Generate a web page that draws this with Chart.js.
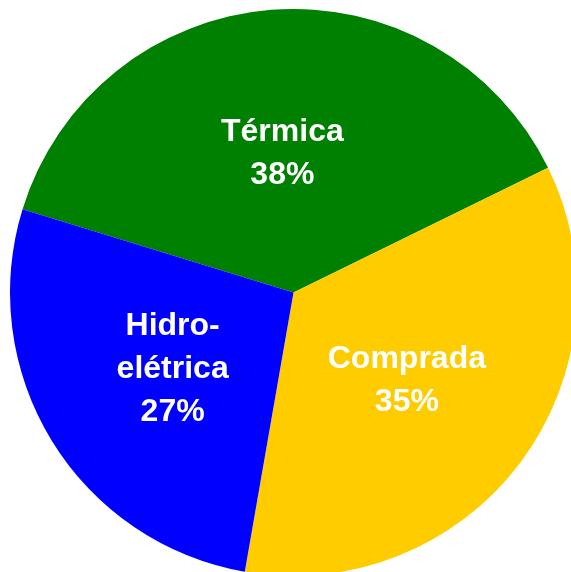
<!DOCTYPE html>
<html>
<head>
<meta charset="utf-8">
<script src="https://cdn.jsdelivr.net/npm/chart.js@4"></script>
<style>
  html, body { margin: 0; padding: 0; background: #fff; overflow: hidden; }
  body { width: 571px; height: 572px; position: relative; }
  #wrap { position: absolute; left: 10px; top: 9px; width: 567px; height: 567px; }
</style>
</head>
<body>
<div id="wrap"><canvas id="chart"></canvas></div>
<script>
// dados do gráfico
const categories = ["Térmica", "Comprada", "Hidroelétrica"];
const labelLines = [["Térmica"], ["Comprada"], ["Hidro-", "elétrica"]];
const values = [38, 35, 27];
const colors = ["#008000", "#ffcc00", "#0000ff"];

// escreve o nome e a percentagem no meio de cada fatia
const sliceLabels = {
  id: "sliceLabels",
  afterDatasetsDraw(chart) {
    const ctx = chart.ctx;
    const meta = chart.getDatasetMeta(0);
    const total = values.reduce((a, b) => a + b, 0);
    const size = 32;
    const lineH = 43;
    ctx.save();
    ctx.fillStyle = "#fff";
    ctx.font = "bold " + size + "px 'Liberation Sans', Arial, sans-serif";
    ctx.textAlign = "center";
    ctx.textBaseline = "alphabetic";
    meta.data.forEach((arc, i) => {
      const p = arc.tooltipPosition();
      const lines = labelLines[i].concat([Math.round(values[i] / total * 100) + "%"]);
      const capH = size * 0.716;
      let y = p.y + (capH - (lines.length - 1) * lineH) / 2;
      lines.forEach((t) => {
        ctx.fillText(t, p.x, y);
        y += lineH;
      });
    });
    ctx.restore();
  },
};

new Chart(document.getElementById("chart"), {
  type: "pie",
  data: {
    labels: categories,
    datasets: [{
      data: values,
      backgroundColor: colors,
      borderWidth: 0,
    }],
  },
  options: {
    responsive: true,
    maintainAspectRatio: false,
    animation: false,
    rotation: -72.9,
    layout: { padding: 0 },
    plugins: {
      legend: { display: false },
      tooltip: { enabled: false },
    },
  },
  plugins: [sliceLabels],
});
</script>
</body>
</html>
